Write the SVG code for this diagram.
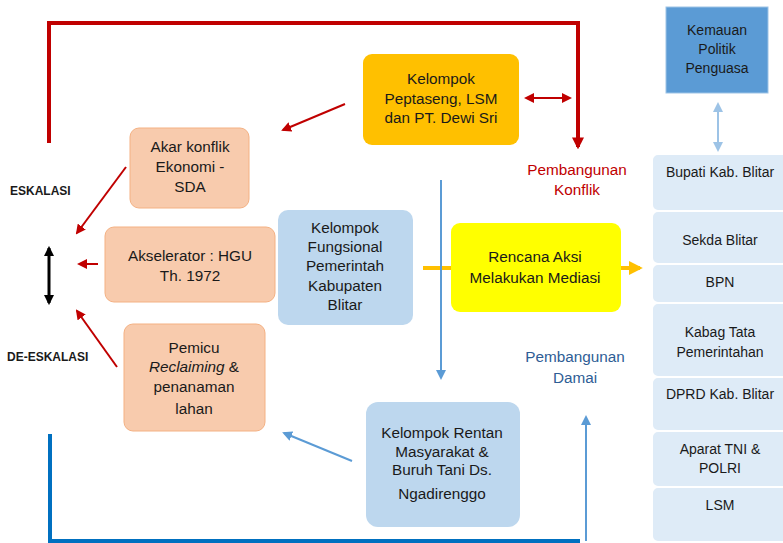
<svg xmlns="http://www.w3.org/2000/svg" width="783" height="543" viewBox="0 0 783 543">
<defs>
<style>
text{font-family:"Liberation Sans Narrow","Arial Narrow","Liberation Sans",sans-serif;font-size:15.3px;fill:#1a1a1a;text-anchor:middle}
.c{font-size:14px}
.sm{font-size:12px;font-weight:bold;text-anchor:start}
.red{fill:#C00000}
.blu{fill:#2E5D95}
.peach{fill:#F8CBAD;stroke:#F4B183;stroke-width:1}
.lb{fill:#BDD7EE}
.col{fill:#DEEBF7;stroke:#ffffff;stroke-width:2}
</style>
<marker id="ar" viewBox="0 0 10 10" refX="8" refY="5" markerWidth="5" markerHeight="5" orient="auto-start-reverse" markerUnits="strokeWidth"><path d="M0,0L10,5L0,10z" fill="#C00000"/></marker>
<marker id="ab" viewBox="0 0 10 10" refX="8" refY="5" markerWidth="5" markerHeight="5" orient="auto-start-reverse" markerUnits="strokeWidth"><path d="M0,0L10,5L0,10z" fill="#5B9BD5"/></marker>
<marker id="ab2" viewBox="0 0 10 10" refX="8" refY="5" markerWidth="5" markerHeight="5" orient="auto-start-reverse" markerUnits="strokeWidth"><path d="M0,0L10,5L0,10z" fill="#9DC3E6"/></marker>
<marker id="ao" viewBox="0 0 10 10" refX="8" refY="5" markerWidth="3.5" markerHeight="3.5" orient="auto" markerUnits="strokeWidth"><path d="M0,0L10,5L0,10z" fill="#FFC000"/></marker>
<marker id="ak" viewBox="0 0 10 10" refX="8" refY="5" markerWidth="3.5" markerHeight="3.5" orient="auto-start-reverse" markerUnits="strokeWidth"><path d="M0,0L10,5L0,10z" fill="#000"/></marker>
<marker id="ar4" viewBox="0 0 10 10" refX="8" refY="5" markerWidth="3" markerHeight="3" orient="auto" markerUnits="strokeWidth"><path d="M0,0L10,5L0,10z" fill="#C00000"/></marker>
</defs>
<rect width="783" height="543" fill="#fff"/>
<g id="connectors" fill="none">
<path d="M49,143V23H578V147" stroke="#C00000" stroke-width="4" marker-end="url(#ar4)"/>
<path d="M50,434V541H580" stroke="#0070C0" stroke-width="4"/>
<path d="M586,541V417" stroke="#5B9BD5" stroke-width="2" marker-end="url(#ab)"/>
<path d="M423,268H640" stroke="#FFC000" stroke-width="4" marker-end="url(#ao)"/>
<path d="M441,180V378" stroke="#5B9BD5" stroke-width="2" marker-end="url(#ab)"/>
<path d="M526,98H570" stroke="#C00000" stroke-width="2" marker-start="url(#ar)" marker-end="url(#ar)"/>
<path d="M345,104L283,130" stroke="#C00000" stroke-width="2" marker-end="url(#ar)"/>
<path d="M126,167L77,233" stroke="#C00000" stroke-width="2" marker-end="url(#ar)"/>
<path d="M98,264H79" stroke="#C00000" stroke-width="2" marker-end="url(#ar)"/>
<path d="M117,367L77,311" stroke="#C00000" stroke-width="2" marker-end="url(#ar)"/>
<path d="M352,461L284,433" stroke="#5B9BD5" stroke-width="2" marker-end="url(#ab)"/>
<path d="M718,104V150" stroke="#9DC3E6" stroke-width="2" marker-start="url(#ab2)" marker-end="url(#ab2)"/>
<path d="M49,248V303" stroke="#000" stroke-width="3" marker-start="url(#ak)" marker-end="url(#ak)"/>
</g>
<g id="peptaseng"><rect x="363" y="54" width="156" height="91" rx="9" fill="#FFC000"/>
<text x="441" y="84">Kelompok</text><text x="441" y="104">Peptaseng, LSM</text><text x="441" y="123">dan PT. Dewi Sri</text></g>
<g id="akar"><rect class="peach" x="130" y="128" width="119" height="80" rx="9"/>
<text x="190" y="152">Akar konflik</text><text x="190" y="172">Ekonomi -</text><text x="190" y="192">SDA</text></g>
<g id="akselerator"><rect class="peach" x="105" y="227" width="170" height="75" rx="9"/>
<text x="190" y="261">Akselerator : HGU</text><text x="190" y="281">Th. 1972</text></g>
<g id="pemicu"><rect class="peach" x="124" y="324" width="141" height="107" rx="9"/>
<text x="194" y="353">Pemicu</text><text x="194" y="372"><tspan font-style="italic">Reclaiming</tspan> &amp;</text><text x="194" y="392">penanaman</text><text x="194" y="414">lahan</text></g>
<g id="fungsional"><rect class="lb" x="278" y="210" width="135" height="115" rx="10"/>
<text x="345" y="233">Kelompok</text><text x="345" y="252">Fungsional</text><text x="345" y="271">Pemerintah</text><text x="345" y="291">Kabupaten</text><text x="345" y="310">Blitar</text></g>
<g id="rencana"><rect x="451" y="223" width="170" height="89" rx="9" fill="#FFFF00"/>
<text x="535" y="262">Rencana Aksi</text><text x="535" y="283">Melakukan Mediasi</text></g>
<g id="rentan"><rect class="lb" x="366" y="402" width="154" height="125" rx="12"/>
<text x="442" y="438">Kelompok Rentan</text><text x="442" y="457">Masyarakat &amp;</text><text x="442" y="475">Buruh Tani Ds.</text><text x="442" y="499">Ngadirenggo</text></g>
<g id="kemauan"><rect x="666" y="7" width="102" height="86" fill="#5B9BD5" stroke="#9DC3E6" stroke-width="1"/>
<text class="c" x="717" y="35">Kemauan</text><text class="c" x="717" y="54">Politik</text><text class="c" x="717" y="73">Penguasa</text></g>
<g id="labels">
<text class="red" x="577" y="175">Pembangunan</text><text class="red" x="577" y="195">Konflik</text>
<text class="blu" x="575" y="362">Pembangunan</text><text class="blu" x="575" y="383">Damai</text>
<text class="sm" x="10" y="195">ESKALASI</text>
<text class="sm" x="7" y="361">DE-ESKALASI</text>
</g>
<g id="bupati"><rect class="col" x="652" y="154" width="140" height="57" rx="6"/><text class="c" x="720" y="177">Bupati Kab. Blitar</text></g>
<g id="sekda"><rect class="col" x="652" y="211" width="140" height="53" rx="6"/><text class="c" x="720" y="245">Sekda Blitar</text></g>
<g id="bpn"><rect class="col" x="652" y="264" width="140" height="39" rx="6"/><text class="c" x="720" y="287">BPN</text></g>
<g id="kabag"><rect class="col" x="652" y="303" width="140" height="74" rx="6"/><text class="c" x="720" y="337">Kabag Tata</text><text class="c" x="720" y="357">Pemerintahan</text></g>
<g id="dprd"><rect class="col" x="652" y="377" width="140" height="54" rx="6"/><text class="c" x="720" y="399">DPRD Kab. Blitar</text></g>
<g id="aparat"><rect class="col" x="652" y="431" width="140" height="56" rx="6"/><text class="c" x="720" y="454">Aparat TNI &amp;</text><text class="c" x="720" y="473">POLRI</text></g>
<g id="lsm"><rect class="col" x="652" y="487" width="140" height="55" rx="6"/><text class="c" x="720" y="510">LSM</text></g>
</svg>
